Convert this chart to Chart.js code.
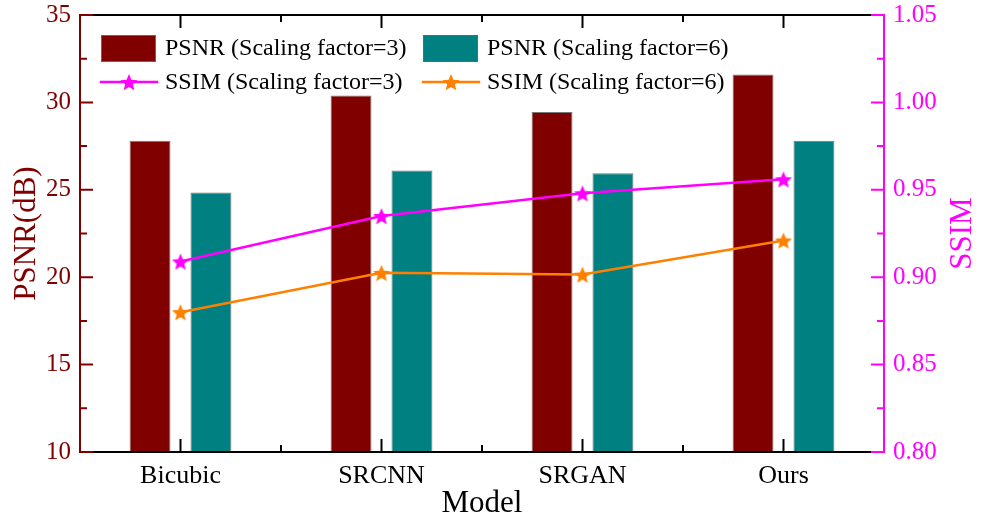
<!DOCTYPE html>
<html>
<head>
<meta charset="utf-8">
<script src="https://cdn.jsdelivr.net/npm/chart.js@4/dist/chart.umd.min.js"></script>
<style>
    html, body { margin: 0; padding: 0; background: #fff; }
    #caixa { width: 981px; height: 522px; position: relative; }
</style>
</head>
<body>
<div id="caixa"><canvas id="grafico"></canvas></div>
<script>
    // dados
    const modelos = ['Bicubic', 'SRCNN', 'SRGAN', 'Ours'];
    const psnr3 = [27.8, 30.4, 29.45, 31.6];
    const psnr6 = [24.85, 26.1, 25.95, 27.8];
    const ssim3 = [0.909, 0.935, 0.948, 0.956];
    const ssim6 = [0.880, 0.9025, 0.9015, 0.921];
    const nomesSeries = ['PSNR (Scaling factor=3)', 'PSNR (Scaling factor=6)', 'SSIM (Scaling factor=3)', 'SSIM (Scaling factor=6)'];

    const VINHO = '#800000';
    const TEAL = '#008080';
    const MAGENTA = '#ff00ff';
    const LARANJA = '#ff8000';
    const FONTE = '"Liberation Serif", "Times New Roman", serif';

    // estrela cheia de 5 pontas para usar como pointStyle
    function criarEstrela(cor, raio) {
        const c = document.createElement('canvas');
        const s = Math.ceil(raio * 2 + 2);
        c.width = s; c.height = s;
        const ctx = c.getContext('2d');
        ctx.beginPath();
        for (let i = 0; i < 10; i++) {
            const r = i % 2 === 0 ? raio : raio * 0.45;
            const a = -Math.PI / 2 + i * Math.PI / 5;
            const x = s / 2 + r * Math.cos(a), y = s / 2 + 1 + r * Math.sin(a);
            if (i === 0) ctx.moveTo(x, y); else ctx.lineTo(x, y);
        }
        ctx.closePath();
        ctx.fillStyle = cor;
        ctx.fill();
        return c;
    }

    const estrelaMagenta = criarEstrela(MAGENTA, 9);
    const estrelaLaranja = criarEstrela(LARANJA, 9);

    // ticks para dentro (estilo Origin), com ticks menores entre os maiores
    function desenharTicks(ctx, pixels, fixo, dir, vertical, cor) {
        ctx.strokeStyle = cor;
        ctx.lineWidth = 2;
        ctx.beginPath();
        for (let i = 0; i < pixels.length; i++) {
            const p = pixels[i];
            if (vertical) { ctx.moveTo(fixo, p); ctx.lineTo(fixo + dir * 12, p); }
            else { ctx.moveTo(p, fixo); ctx.lineTo(p, fixo + dir * 12); }
            if (i < pixels.length - 1) {
                const m = (p + pixels[i + 1]) / 2;
                if (vertical) { ctx.moveTo(fixo, m); ctx.lineTo(fixo + dir * 6, m); }
                else { ctx.moveTo(m, fixo); ctx.lineTo(m, fixo + dir * 6); }
            }
        }
        ctx.stroke();
    }

    const eixosOrigin = {
        id: 'eixosOrigin',
        afterDraw(chart) {
            const ctx = chart.ctx;
            const a = chart.chartArea;
            const sx = chart.scales.x, sy = chart.scales.y, sy1 = chart.scales.y1;
            ctx.save();
            ctx.lineCap = 'square';

            const px = sx.ticks.map((t, i) => sx.getPixelForTick(i));
            const py = sy.ticks.map((t, i) => sy.getPixelForTick(i));
            const py1 = sy1.ticks.map((t, i) => sy1.getPixelForTick(i));

            // linhas dos eixos
            ctx.lineWidth = 2;
            ctx.strokeStyle = '#000';
            ctx.beginPath();
            ctx.moveTo(a.left, a.top); ctx.lineTo(a.right, a.top);
            ctx.moveTo(a.left, a.bottom); ctx.lineTo(a.right, a.bottom);
            ctx.stroke();
            ctx.strokeStyle = VINHO;
            ctx.beginPath(); ctx.moveTo(a.left, a.top); ctx.lineTo(a.left, a.bottom); ctx.stroke();
            ctx.strokeStyle = MAGENTA;
            ctx.beginPath(); ctx.moveTo(a.right, a.top); ctx.lineTo(a.right, a.bottom); ctx.stroke();

            desenharTicks(ctx, px, a.bottom, -1, false, '#000');
            desenharTicks(ctx, px, a.top, 1, false, '#000');
            desenharTicks(ctx, py, a.left, 1, true, VINHO);
            desenharTicks(ctx, py1, a.right, -1, true, MAGENTA);

            // título do eixo direito, girado como no Origin (lendo de baixo para cima)
            ctx.save();
            ctx.translate(963, (a.top + a.bottom) / 2);
            ctx.rotate(-Math.PI / 2);
            ctx.font = '31px ' + FONTE;
            ctx.fillStyle = MAGENTA;
            ctx.textAlign = 'center';
            ctx.textBaseline = 'middle';
            ctx.fillText('SSIM', 0, 0);
            ctx.restore();

            // legenda dentro da área do gráfico, 2 colunas
            const posX = [101, 423];
            const posY = [48, 82];
            ctx.font = '24px ' + FONTE;
            ctx.textBaseline = 'middle';
            ctx.textAlign = 'left';
            chart.data.datasets.forEach((ds, i) => {
                const x0 = posX[i % 2];
                const y0 = posY[Math.floor(i / 2)];
                if (ds.type === 'bar') {
                    ctx.fillStyle = ds.backgroundColor;
                    ctx.fillRect(x0, y0 - 13, 55, 27);
                    ctx.strokeStyle = '#666';
                    ctx.lineWidth = 1;
                    ctx.strokeRect(x0 + 0.5, y0 - 12.5, 54, 26);
                } else {
                    ctx.strokeStyle = ds.borderColor;
                    ctx.lineWidth = 2.5;
                    ctx.beginPath(); ctx.moveTo(x0, y0); ctx.lineTo(x0 + 56, y0); ctx.stroke();
                    const img = ds.pointStyle;
                    ctx.drawImage(img, x0 + 28 - img.width / 2, y0 - img.height / 2);
                }
                ctx.fillStyle = '#000';
                ctx.fillText(ds.label, x0 + 64, y0 + 1);
            });
            ctx.restore();
        }
    };

    const dados = {
        labels: modelos,
        datasets: [
            {
                type: 'bar', label: nomesSeries[0], data: psnr3, yAxisID: 'y',
                backgroundColor: VINHO, borderColor: '#777', borderWidth: 1, order: 2
            },
            {
                type: 'bar', label: nomesSeries[1], data: psnr6, yAxisID: 'y',
                backgroundColor: TEAL, borderColor: '#777', borderWidth: 1, order: 2
            },
            {
                type: 'line', label: nomesSeries[2], data: ssim3, yAxisID: 'y1',
                borderColor: MAGENTA, borderWidth: 2.5, tension: 0,
                pointStyle: estrelaMagenta, order: 1
            },
            {
                type: 'line', label: nomesSeries[3], data: ssim6, yAxisID: 'y1',
                borderColor: LARANJA, borderWidth: 2.5, tension: 0,
                pointStyle: estrelaLaranja, order: 1
            }
        ]
    };

    // tira o espaço extra que o Chart.js reserva para meio rótulo no topo
    function semPaddingVertical(s, largura) {
        s.width = largura;
        s.paddingTop = 0;
        s.paddingBottom = 0;
    }

    const config = {
        type: 'bar',
        data: dados,
        plugins: [eixosOrigin],
        options: {
            responsive: false,
            animation: false,
            devicePixelRatio: 1,
            layout: { padding: { top: 15, left: 0, right: 0, bottom: 0 } },
            datasets: {
                bar: { categoryPercentage: 0.606, barPercentage: 0.672 }
            },
            plugins: {
                legend: { display: false },
                tooltip: { enabled: false }
            },
            scales: {
                x: {
                    offset: true,
                    grid: { display: false, drawTicks: false },
                    border: { display: false },
                    ticks: { color: '#000', padding: 9, font: { family: FONTE, size: 26 } },
                    title: {
                        display: true, text: 'Model', color: '#000',
                        font: { family: FONTE, size: 31 }, padding: { top: 0, bottom: 0 }
                    },
                    afterFit(s) { s.height = 70; s.paddingLeft = 0; s.paddingRight = 0; }
                },
                y: {
                    position: 'left',
                    min: 10, max: 35,
                    grid: { display: false, drawTicks: false },
                    border: { display: false },
                    ticks: { stepSize: 5, color: VINHO, padding: 9, font: { family: FONTE, size: 25 } },
                    title: {
                        display: true, text: 'PSNR(dB)', color: VINHO,
                        font: { family: FONTE, size: 31 }, padding: { top: 8, bottom: 0 }
                    },
                    afterFit(s) { semPaddingVertical(s, 80); }
                },
                y1: {
                    position: 'right',
                    min: 0.80, max: 1.05,
                    grid: { display: false, drawTicks: false },
                    border: { display: false },
                    ticks: {
                        stepSize: 0.05, color: MAGENTA, padding: 9,
                        font: { family: FONTE, size: 25 },
                        callback: v => Number(v).toFixed(2)
                    },
                    afterFit(s) { semPaddingVertical(s, 97); }
                }
            }
        }
    };

    const canvas = document.getElementById('grafico');
    canvas.width = 981;
    canvas.height = 522;
    let meuGrafico = new Chart(canvas, config);
</script>
</body>
</html>
